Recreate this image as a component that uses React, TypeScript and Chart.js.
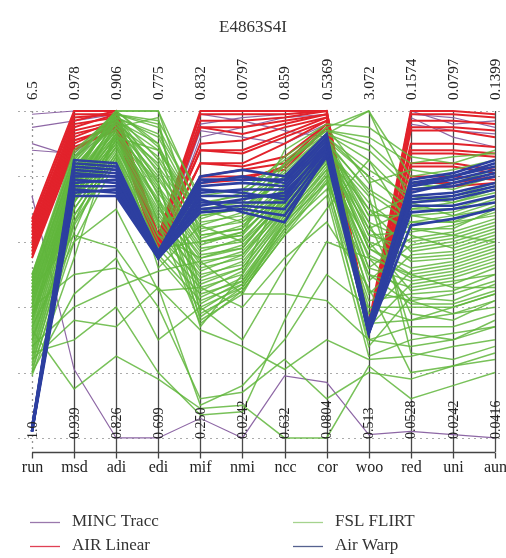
import React, { useEffect, useRef } from "react";
import { Chart, registerables } from "chart.js";

Chart.register(...registerables);

const TITLE = "E4863S4I";
const AXES = ["run", "msd", "adi", "edi", "mif", "nmi", "ncc", "cor", "woo", "red", "uni", "aun"];
const TOP_LABELS = ["6.5", "0.978", "0.906", "0.775", "0.832", "0.0797", "0.859", "0.5369", "3.072", "0.1574", "0.0797", "0.1399"];
const BOTTOM_LABELS = ["1.0", "0.939", "0.826", "0.699", "0.250", "0.0242", "0.632", "0.0804", "0.513", "0.0528", "0.0242", "0.0416"];

// Each row: position of one case on every axis (0 = axis minimum, 1 = axis maximum)
const MINC_TRACC = [
  [0.74, 0.21, 0.0, 0.0, 0.06, 0.0, 0.19, 0.17, 0.01, 0.02, 0.01, 0.0],
  [0.99, 1.0, 1.0, 0.6, 0.99, 0.97, 0.94, 0.92, 0.34, 1.0, 0.96, 0.97],
  [0.95, 0.97, 0.99, 0.58, 0.94, 0.92, 0.9, 0.96, 0.33, 0.98, 0.92, 0.89],
  [0.9, 0.86, 0.95, 0.57, 0.92, 0.95, 0.98, 0.99, 0.33, 0.96, 0.94, 0.93],
  [0.88, 0.87, 0.98, 0.59, 0.96, 0.98, 0.99, 1.0, 0.34, 0.99, 0.98, 0.95],
];

const AIR_LINEAR = [
  [0.67, 1.0, 1.0, 0.62, 1.0, 1.0, 1.0, 1.0, 0.35, 1.0, 1.0, 0.99],
  [0.66, 0.98, 0.99, 0.61, 0.97, 0.97, 0.98, 1.0, 0.34, 0.97, 0.97, 0.96],
  [0.65, 0.99, 0.99, 0.61, 0.99, 0.99, 0.99, 1.0, 0.34, 0.99, 0.99, 0.98],
  [0.64, 0.97, 1.0, 0.6, 0.95, 0.95, 0.97, 0.99, 0.34, 0.95, 0.95, 0.94],
  [0.63, 0.96, 0.98, 0.6, 0.95, 0.93, 0.96, 0.99, 0.33, 0.94, 0.94, 0.92],
  [0.62, 0.95, 0.99, 0.59, 0.9, 0.91, 0.95, 0.98, 0.33, 0.9, 0.9, 0.89],
  [0.61, 0.94, 0.97, 0.59, 0.88, 0.88, 0.93, 0.98, 0.33, 0.88, 0.88, 0.87],
  [0.6, 0.93, 0.96, 0.58, 0.88, 0.87, 0.92, 0.97, 0.32, 0.87, 0.87, 0.86],
  [0.59, 0.92, 0.97, 0.58, 0.84, 0.84, 0.9, 0.97, 0.32, 0.84, 0.84, 0.82],
  [0.58, 0.91, 0.95, 0.57, 0.84, 0.83, 0.86, 0.96, 0.32, 0.83, 0.83, 0.81],
  [0.57, 0.9, 0.96, 0.57, 0.8, 0.82, 0.84, 0.96, 0.33, 0.8, 0.8, 0.79],
  [0.56, 0.89, 0.94, 0.56, 0.8, 0.8, 0.82, 0.95, 0.32, 0.78, 0.78, 0.8],
  [0.55, 0.88, 0.95, 0.56, 0.78, 0.79, 0.83, 0.95, 0.32, 0.76, 0.77, 0.78],
];

const FSL_FLIRT = [
  [0.5, 0.86, 1.0, 1.0, 0.72, 0.74, 0.86, 0.95, 1.0, 0.8, 0.82, 0.85],
  [0.5, 0.88, 0.99, 0.97, 0.74, 0.76, 0.85, 0.94, 0.92, 0.84, 0.86, 0.87],
  [0.49, 0.87, 1.0, 0.9, 0.6, 0.62, 0.88, 0.96, 0.95, 0.86, 0.84, 0.88],
  [0.49, 0.86, 0.98, 0.93, 0.71, 0.75, 0.83, 0.95, 0.78, 0.82, 0.8, 0.83],
  [0.48, 0.85, 0.99, 0.95, 0.7, 0.72, 0.84, 0.94, 0.9, 0.78, 0.76, 0.8],
  [0.48, 0.84, 1.0, 0.89, 0.69, 0.73, 0.81, 0.93, 0.88, 0.76, 0.78, 0.82],
  [0.47, 0.84, 0.98, 0.92, 0.68, 0.7, 0.82, 0.93, 0.85, 0.72, 0.74, 0.78],
  [0.47, 0.83, 0.96, 0.86, 0.67, 0.71, 0.79, 0.92, 0.68, 0.74, 0.73, 0.77],
  [0.46, 0.85, 1.0, 1.0, 0.62, 0.64, 0.84, 0.93, 1.0, 0.72, 0.68, 0.7],
  [0.46, 0.82, 0.97, 0.83, 0.65, 0.69, 0.8, 0.91, 0.64, 0.7, 0.72, 0.75],
  [0.45, 0.83, 0.97, 0.88, 0.66, 0.68, 0.8, 0.92, 0.8, 0.7, 0.7, 0.74],
  [0.45, 0.81, 0.99, 0.81, 0.63, 0.67, 0.76, 0.9, 0.76, 0.68, 0.69, 0.73],
  [0.44, 0.81, 0.98, 0.78, 0.36, 0.44, 0.66, 0.88, 0.72, 0.62, 0.58, 0.62],
  [0.44, 0.8, 0.95, 0.79, 0.61, 0.65, 0.75, 0.89, 0.58, 0.66, 0.66, 0.71],
  [0.43, 0.82, 0.99, 0.85, 0.64, 0.66, 0.78, 0.91, 0.75, 0.66, 0.68, 0.72],
  [0.43, 0.79, 0.94, 0.77, 0.59, 0.63, 0.74, 0.9, 0.62, 0.63, 0.65, 0.69],
  [0.42, 0.8, 0.96, 0.82, 0.62, 0.64, 0.77, 0.9, 0.7, 0.64, 0.64, 0.7],
  [0.42, 0.78, 0.93, 0.75, 0.57, 0.61, 0.73, 0.88, 0.52, 0.61, 0.63, 0.67],
  [0.41, 0.79, 1.0, 0.74, 0.34, 0.5, 0.78, 0.92, 0.82, 0.74, 0.72, 0.76],
  [0.41, 0.77, 0.92, 0.73, 0.55, 0.59, 0.72, 0.87, 0.48, 0.59, 0.61, 0.65],
  [0.4, 0.79, 0.95, 0.8, 0.6, 0.62, 0.76, 0.9, 0.66, 0.6, 0.62, 0.66],
  [0.4, 0.76, 0.98, 0.71, 0.53, 0.57, 0.71, 0.86, 0.7, 0.57, 0.59, 0.63],
  [0.39, 0.75, 0.91, 0.69, 0.51, 0.56, 0.7, 0.86, 0.44, 0.56, 0.57, 0.61],
  [0.38, 0.78, 0.94, 0.76, 0.58, 0.6, 0.75, 0.89, 0.62, 0.58, 0.6, 0.64],
  [0.38, 0.74, 0.9, 0.67, 0.49, 0.54, 0.69, 0.85, 0.64, 0.54, 0.55, 0.59],
  [0.37, 0.77, 0.93, 0.72, 0.56, 0.58, 0.74, 0.88, 0.6, 0.55, 0.56, 0.6],
  [0.37, 0.73, 0.89, 0.64, 0.47, 0.52, 0.68, 0.84, 0.38, 0.51, 0.53, 0.57],
  [0.36, 0.72, 0.97, 0.66, 0.7, 0.66, 0.74, 0.9, 0.68, 0.68, 0.66, 0.68],
  [0.36, 0.8, 0.99, 0.96, 0.45, 0.51, 0.67, 0.83, 0.56, 0.49, 0.51, 0.55],
  [0.35, 0.76, 0.92, 0.7, 0.54, 0.56, 0.72, 0.87, 0.58, 0.52, 0.54, 0.58],
  [0.34, 0.78, 0.97, 0.9, 0.43, 0.49, 0.66, 0.82, 0.34, 0.47, 0.49, 0.53],
  [0.34, 0.6, 0.7, 0.45, 0.46, 0.4, 0.55, 0.66, 0.46, 0.2, 0.22, 0.24],
  [0.33, 0.75, 0.91, 0.68, 0.52, 0.55, 0.71, 0.86, 0.55, 0.5, 0.52, 0.56],
  [0.32, 0.76, 0.95, 0.84, 0.41, 0.48, 0.65, 0.81, 0.6, 0.45, 0.47, 0.52],
  [0.31, 0.74, 0.9, 0.65, 0.5, 0.53, 0.7, 0.85, 0.52, 0.48, 0.5, 0.54],
  [0.3, 0.66, 0.93, 0.52, 0.65, 0.6, 0.72, 0.87, 0.58, 0.5, 0.46, 0.46],
  [0.3, 0.74, 0.93, 0.78, 0.39, 0.47, 0.64, 0.8, 0.42, 0.44, 0.45, 0.5],
  [0.29, 0.72, 0.89, 0.62, 0.48, 0.52, 0.69, 0.84, 0.5, 0.46, 0.48, 0.5],
  [0.28, 0.72, 0.91, 0.72, 0.37, 0.46, 0.63, 0.79, 0.28, 0.43, 0.42, 0.47],
  [0.27, 0.7, 0.88, 0.6, 0.46, 0.5, 0.68, 0.82, 0.45, 0.42, 0.44, 0.48],
  [0.26, 0.7, 0.89, 0.66, 0.35, 0.45, 0.62, 0.78, 0.5, 0.41, 0.41, 0.45],
  [0.25, 0.68, 0.87, 0.58, 0.44, 0.48, 0.67, 0.8, 0.4, 0.4, 0.4, 0.44],
  [0.24, 0.68, 0.87, 0.62, 0.55, 0.58, 0.73, 0.86, 0.66, 0.38, 0.36, 0.42],
  [0.23, 0.65, 0.86, 0.56, 0.42, 0.47, 0.66, 0.78, 0.35, 0.36, 0.38, 0.4],
  [0.22, 0.66, 0.86, 0.58, 0.6, 0.63, 0.75, 0.88, 0.74, 0.32, 0.3, 0.36],
  [0.21, 0.6, 0.85, 0.55, 0.4, 0.46, 0.64, 0.76, 0.3, 0.34, 0.34, 0.38],
  [0.2, 0.63, 0.92, 0.88, 0.68, 0.7, 0.8, 0.91, 0.8, 0.26, 0.24, 0.28],
  [0.19, 0.55, 0.95, 0.98, 0.38, 0.45, 0.62, 0.74, 0.25, 0.3, 0.32, 0.34],
  [0.28, 0.4, 0.46, 0.51, 0.54, 0.44, 0.44, 0.42, 0.3, 0.28, 0.3, 0.34],
  [0.24, 0.36, 0.34, 0.46, 0.33, 0.28, 0.21, 0.3, 0.24, 0.25, 0.28, 0.3],
  [0.33, 0.15, 0.25, 0.18, 0.09, 0.1, 0.0, 0.0, 0.22, 0.12, 0.16, 0.2],
  [0.4, 0.5, 0.52, 0.46, 0.1, 0.16, 0.3, 0.5, 0.4, 0.36, 0.4, 0.44],
  [0.45, 0.62, 0.58, 0.4, 0.12, 0.14, 0.24, 0.12, 0.2, 0.18, 0.22, 0.26],
  [0.26, 0.3, 0.4, 0.2, 0.07, 0.08, 0.36, 0.6, 0.55, 0.42, 0.38, 0.42],
  [0.2, 0.44, 0.55, 0.3, 0.4, 0.3, 0.52, 0.7, 0.85, 0.64, 0.62, 0.6],
];

const AIR_WARP = [
  [0.03, 0.85, 0.84, 0.57, 0.8, 0.82, 0.8, 0.93, 0.35, 0.79, 0.81, 0.85],
  [0.02, 0.84, 0.83, 0.56, 0.78, 0.8, 0.78, 0.92, 0.34, 0.78, 0.8, 0.84],
  [0.02, 0.81, 0.8, 0.56, 0.79, 0.79, 0.79, 0.92, 0.35, 0.77, 0.8, 0.83],
  [0.03, 0.83, 0.82, 0.56, 0.77, 0.78, 0.77, 0.91, 0.34, 0.77, 0.79, 0.82],
  [0.03, 0.82, 0.81, 0.57, 0.76, 0.75, 0.73, 0.9, 0.34, 0.73, 0.74, 0.77],
  [0.02, 0.8, 0.8, 0.55, 0.75, 0.76, 0.76, 0.9, 0.33, 0.76, 0.77, 0.8],
  [0.02, 0.79, 0.78, 0.55, 0.71, 0.73, 0.75, 0.88, 0.33, 0.75, 0.78, 0.81],
  [0.03, 0.78, 0.79, 0.56, 0.74, 0.74, 0.74, 0.89, 0.33, 0.74, 0.75, 0.78],
  [0.02, 0.77, 0.77, 0.55, 0.72, 0.72, 0.72, 0.88, 0.32, 0.72, 0.73, 0.76],
  [0.03, 0.76, 0.75, 0.56, 0.73, 0.69, 0.66, 0.87, 0.32, 0.65, 0.67, 0.7],
  [0.03, 0.75, 0.76, 0.56, 0.7, 0.71, 0.7, 0.87, 0.33, 0.71, 0.71, 0.74],
  [0.02, 0.74, 0.74, 0.55, 0.69, 0.7, 0.68, 0.86, 0.32, 0.69, 0.7, 0.72],
];

const GROUPS = [
  { name: "MINC Tracc", rows: MINC_TRACC, color: "rgba(135,95,160,0.95)", width: 1.2, legend: "#9a78ac" },
  { name: "AIR Linear", rows: AIR_LINEAR, color: "#e2222b", width: 2, legend: "#e04055" },
  { name: "FSL FLIRT", rows: FSL_FLIRT, color: "rgba(96,182,60,0.85)", width: 1.5, legend: "#a5d38e" },
  { name: "Air Warp", rows: AIR_WARP, color: "#2d3fa0", width: 2.6, legend: "#55618f" },
];

// drawing order: later in this list = underneath
const DRAW_STACK = ["Air Warp", "FSL FLIRT", "AIR Linear", "MINC Tracc"];

const SERIF = '"Liberation Serif", "DejaVu Serif", serif';

const decorPlugin = {
  id: "parallelDecor",
  beforeDatasetsDraw(chart: any) {
    const { ctx, chartArea } = chart;
    const xs = chart.scales.x;
    const ys = chart.scales.y;
    ctx.save();
    ctx.strokeStyle = "rgba(150,150,150,0.8)";
    ctx.lineWidth = 1;
    ctx.setLineDash([2, 4]);
    for (let k = 0; k <= 5; k++) {
      const y = Math.round(ys.getPixelForValue(k / 5)) + 0.5;
      ctx.beginPath();
      ctx.moveTo(18, y);
      ctx.lineTo(502, y);
      ctx.stroke();
    }
    AXES.forEach((_, i) => {
      const x = Math.round(xs.getPixelForValue(i)) + 0.5;
      ctx.strokeStyle = i === 0 ? "rgba(120,120,120,0.8)" : "#4a4a4a";
      ctx.setLineDash(i === 0 ? [2, 4] : []);
      ctx.lineWidth = 1.3;
      ctx.beginPath();
      ctx.moveTo(x, chartArea.top);
      ctx.lineTo(x, chartArea.bottom);
      ctx.stroke();
    });
    ctx.restore();
  },
  afterDatasetsDraw(chart: any) {
    const { ctx, chartArea } = chart;
    const xs = chart.scales.x;
    const ys = chart.scales.y;
    const y0 = ys.getPixelForValue(0);
    ctx.save();
    ctx.setLineDash([]);
    ctx.fillStyle = "#333";
    ctx.font = `17px ${SERIF}`;
    ctx.textAlign = "center";
    ctx.textBaseline = "middle";
    ctx.fillText(TITLE, 253, 28);
    AXES.forEach((_, i) => {
      const x = xs.getPixelForValue(i);
      ctx.save();
      ctx.translate(x + 1, 100);
      ctx.rotate(-Math.PI / 2);
      ctx.font = `15px ${SERIF}`;
      ctx.fillStyle = "#222";
      ctx.textAlign = "left";
      ctx.textBaseline = "middle";
      ctx.fillText(TOP_LABELS[i], 0, 0);
      ctx.restore();
      ctx.save();
      ctx.translate(x + 1, y0 + 1);
      ctx.rotate(-Math.PI / 2);
      ctx.font = `14px ${SERIF}`;
      ctx.fillStyle = "#222";
      ctx.textAlign = "left";
      ctx.textBaseline = "middle";
      ctx.fillText(BOTTOM_LABELS[i], 0, 0);
      ctx.restore();
    });
    const yb = Math.round(chartArea.bottom) + 0.5;
    ctx.strokeStyle = "#444";
    ctx.lineWidth = 1.3;
    ctx.beginPath();
    ctx.moveTo(xs.getPixelForValue(0), yb);
    ctx.lineTo(xs.getPixelForValue(AXES.length - 1), yb);
    ctx.stroke();
    AXES.forEach((name, i) => {
      const x = Math.round(xs.getPixelForValue(i)) + 0.5;
      ctx.beginPath();
      ctx.moveTo(x, yb);
      ctx.lineTo(x, yb + 6);
      ctx.stroke();
      ctx.fillStyle = "#222";
      ctx.font = `16px ${SERIF}`;
      ctx.textAlign = "center";
      ctx.textBaseline = "middle";
      ctx.fillText(name, x, 468);
    });
    const legendPos = [
      [30, 522],
      [30, 546],
      [293, 522],
      [293, 546],
    ];
    GROUPS.forEach((g, k) => {
      const [lx, ly] = legendPos[k];
      ctx.strokeStyle = g.legend;
      ctx.lineWidth = 1.3;
      ctx.beginPath();
      ctx.moveTo(lx, ly + 0.5);
      ctx.lineTo(lx + 30, ly + 0.5);
      ctx.stroke();
      ctx.fillStyle = "#333";
      ctx.font = `17px ${SERIF}`;
      ctx.textAlign = "left";
      ctx.textBaseline = "middle";
      ctx.fillText(g.name, lx + 42, ly);
    });
    ctx.restore();
  },
};

export default function App() {
  const ref = useRef<HTMLCanvasElement | null>(null);
  useEffect(() => {
    if (!ref.current) return;
    const datasets: any[] = [];
    DRAW_STACK.forEach((name) => {
      const g = GROUPS.find((q) => q.name === name)!;
      g.rows.forEach((row, r) => {
        datasets.push({
          label: `${g.name} ${r + 1}`,
          data: row,
          borderColor: g.color,
          borderWidth: g.width,
          pointRadius: 0,
          tension: 0,
          fill: false,
          clip: false,
        });
      });
    });
    const chart = new Chart(ref.current, {
      type: "line",
      data: { labels: AXES, datasets },
      options: {
        animation: false,
        responsive: false,
        devicePixelRatio: 1,
        layout: { padding: { left: 32, right: 11, top: 111, bottom: 106 } },
        scales: {
          x: { type: "category", display: false, offset: false },
          y: { type: "linear", display: false, min: -0.043, max: 1 },
        },
        plugins: { legend: { display: false }, tooltip: { enabled: false } },
        events: [],
      },
      plugins: [decorPlugin],
    });
    return () => chart.destroy();
  }, []);
  return (
    <div style={{ position: "absolute", left: 0, top: 0, width: 506, height: 558, background: "#fff" }}>
      <canvas ref={ref} width={506} height={558} style={{ display: "block" }} />
    </div>
  );
}
